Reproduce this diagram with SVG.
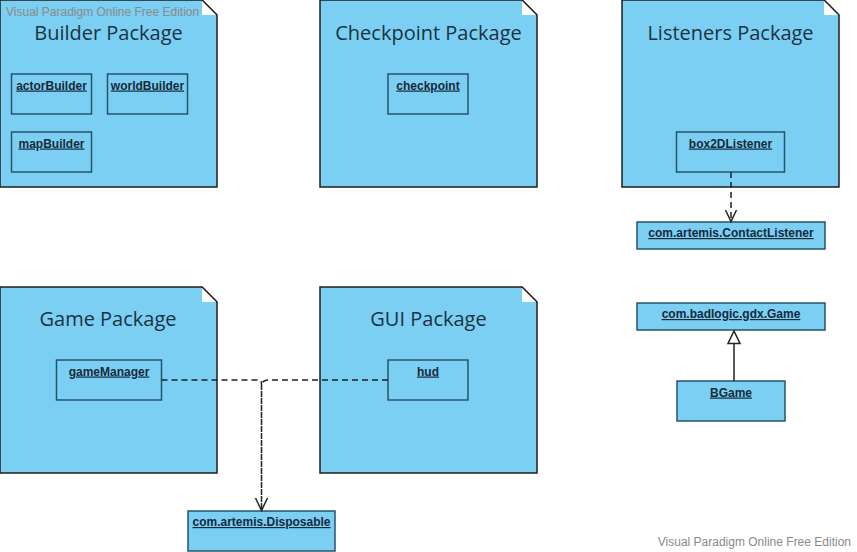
<svg xmlns="http://www.w3.org/2000/svg" width="857" height="552" viewBox="0 0 857 552">
<defs>
<style>
.pkg{fill:#7acff3;stroke:#1e1e1e;stroke-width:1.5}
.ear{fill:#ffffff;stroke:none}
.earl{fill:none;stroke:#1e1e1e;stroke-width:1.2}
.ttl{font-family:"Open Sans","Liberation Sans",sans-serif;font-size:20px;fill:#1c3242;text-anchor:middle}
.box{fill:#7acff3;stroke:#27536a;stroke-width:1.5}
.lbl{font-family:"Liberation Sans",Arial,sans-serif;font-size:12px;font-weight:bold;fill:#16293a;text-anchor:middle;text-decoration:underline}
.wm{font-family:"Liberation Sans",Arial,sans-serif;font-size:12px;fill:#8a8a8a}
.dep{fill:none;stroke:#222;stroke-width:1.5;stroke-dasharray:6 4}
.dense{fill:none;stroke:#222;stroke-width:1.5;stroke-dasharray:6 1}
.solid{fill:none;stroke:#222;stroke-width:1.5}
</style>
</defs>
<rect width="857" height="552" fill="#ffffff"/>

<g id="builder-package">
<path class="pkg" d="M0,0 H202 L217,15 V187 H0 Z"/>
<path class="ear" d="M202,0 V15 H217 Z"/>
<path class="earl" d="M202,0 L217,15"/>
<text class="ttl" x="108.5" y="40">Builder Package</text>
</g>
<g id="actorBuilder"><rect class="box" x="11.5" y="74" width="80" height="40"/><text class="lbl" x="51.5" y="89.5">actorBuilder</text></g>
<g id="worldBuilder"><rect class="box" x="107.5" y="74" width="80" height="40"/><text class="lbl" x="147.5" y="89.5">worldBuilder</text></g>
<g id="mapBuilder"><rect class="box" x="11.5" y="132" width="80" height="40"/><text class="lbl" x="51.5" y="147.5">mapBuilder</text></g>

<g id="checkpoint-package">
<path class="pkg" d="M320,0 H522 L537,15 V187 H320 Z"/>
<path class="ear" d="M522,0 V15 H537 Z"/>
<path class="earl" d="M522,0 L537,15"/>
<text class="ttl" x="428.5" y="40">Checkpoint Package</text>
</g>
<g id="checkpoint"><rect class="box" x="388" y="74" width="80" height="40"/><text class="lbl" x="428" y="89.5">checkpoint</text></g>

<g id="listeners-package">
<path class="pkg" d="M622,0 H824 L839,15 V187 H622 Z"/>
<path class="ear" d="M824,0 V15 H839 Z"/>
<path class="earl" d="M824,0 L839,15"/>
<text class="ttl" x="730.5" y="40">Listeners Package</text>
</g>
<g id="box2DListener"><rect class="box" x="676.5" y="132" width="108" height="40"/><text class="lbl" x="730.5" y="147.5">box2DListener</text></g>
<g id="ContactListener"><rect class="box" x="637" y="222" width="188" height="27"/><text class="lbl" x="731" y="237">com.artemis.ContactListener</text></g>

<g id="game-package">
<path class="pkg" d="M0,287 H202 L217,302 V473 H0 Z"/>
<path class="ear" d="M202,287 V302 H217 Z"/>
<path class="earl" d="M202,287 L217,302"/>
<text class="ttl" x="108" y="326">Game Package</text>
</g>
<g id="gameManager"><rect class="box" x="56.5" y="360" width="105" height="40"/><text class="lbl" x="109" y="375.5">gameManager</text></g>

<g id="gui-package">
<path class="pkg" d="M320,287 H522 L537,302 V473 H320 Z"/>
<path class="ear" d="M522,287 V302 H537 Z"/>
<path class="earl" d="M522,287 L537,302"/>
<text class="ttl" x="428.5" y="326">GUI Package</text>
</g>
<g id="hud"><rect class="box" x="388" y="360" width="80" height="40"/><text class="lbl" x="428" y="375.5">hud</text></g>

<g id="Disposable"><rect class="box" x="188" y="511" width="147" height="40"/><text class="lbl" x="261.5" y="526">com.artemis.Disposable</text></g>

<g id="BadlogicGame"><rect class="box" x="637" y="303" width="188" height="27"/><text class="lbl" x="731" y="318">com.badlogic.gdx.Game</text></g>
<g id="BGame"><rect class="box" x="677" y="381" width="108" height="40"/><text class="lbl" x="731" y="396.5">BGame</text></g>

<g id="connectors">
<path class="dep" d="M731,172 V221"/>
<path class="solid" d="M725.5,210 L731,221.5 L736.5,210"/>
<path class="dep" d="M161.5,380 H259 Q261.5,380 261.5,384"/>
<path class="dep" d="M388,380 H267 Q263,381 262,383"/>
<path class="dense" d="M261.5,384 V510"/>
<path class="solid" d="M255.5,498 L261.5,510.5 L267.5,498"/>
<path class="solid" d="M734,381 V343.5"/>
<path d="M734,331 L740,343.5 H728 Z" fill="#ffffff" stroke="#222" stroke-width="1.5"/>
</g>

<text class="wm" x="6" y="16">Visual Paradigm Online Free Edition</text>
<text class="wm" x="851" y="546" text-anchor="end">Visual Paradigm Online Free Edition</text>
</svg>
